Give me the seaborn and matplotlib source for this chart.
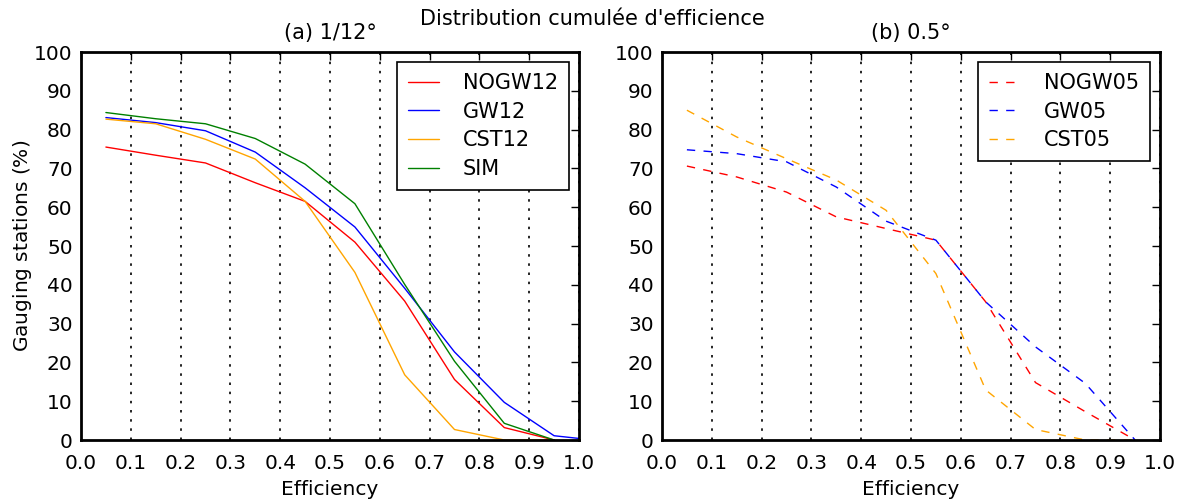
import matplotlib
matplotlib.use("Agg")
import matplotlib.pyplot as plt
import seaborn as sns
import pandas as pd

efficiency = [0.05, 0.15, 0.25, 0.35, 0.45, 0.55, 0.65, 0.75, 0.85, 0.95]
efficiency_gw = [0.05, 0.15, 0.25, 0.35, 0.45, 0.55, 0.65, 0.75, 0.85, 0.95, 1.0]

nogw12 = [75.5, 73.4, 71.4, 66.3, 61.5, 51.0, 35.8, 15.6, 3.2, 0.0]
gw12 = [83.1, 81.8, 79.7, 74.2, 65.0, 54.9, 39.1, 22.7, 9.7, 1.1, 0.4]
cst12 = [82.7, 81.5, 77.5, 72.4, 61.5, 43.2, 16.8, 2.7, 0.0, 0.0]
sim = [84.4, 82.8, 81.5, 77.7, 71.1, 60.9, 40.1, 20.3, 4.3, 0.0]

nogw05 = [70.6, 67.8, 63.9, 57.5, 54.5, 51.5, 35.6, 14.8, 7.3, 0.0]
gw05 = [74.8, 73.8, 71.7, 65.2, 56.4, 51.5, 35.6, 24.0, 14.6, 0.0]
cst05 = [85.0, 78.1, 72.5, 67.0, 59.2, 42.9, 12.9, 2.7, 0.0, 0.0]

xticks = [0.0, 0.1, 0.2, 0.3, 0.4, 0.5, 0.6, 0.7, 0.8, 0.9, 1.0]
yticks = [0, 10, 20, 30, 40, 50, 60, 70, 80, 90, 100]

sns.set_style("white")
plt.rcParams['font.family'] = ['DejaVu Sans']
plt.rcParams['mathtext.default'] = 'regular'
for k in ['text.color', 'axes.labelcolor', 'xtick.color', 'ytick.color']:
    plt.rcParams[k] = 'black'

fig = plt.figure(figsize=(11.85, 5.04), dpi=100)
ax1 = fig.add_axes([81/1185, 64/504, 498/1185, 388/504])
ax2 = fig.add_axes([662/1185, 64/504, 498/1185, 388/504])

def df_of(x, y, name):
    return pd.DataFrame({"x": x, "y": y, "s": name})

left = [(efficiency, nogw12, "NOGW12", "red"),
        (efficiency_gw, gw12, "GW12", "blue"),
        (efficiency, cst12, "CST12", "orange"),
        (efficiency, sim, "SIM", "green")]
for x, y, name, c in left:
    sns.lineplot(data=df_of(x, y, name), x="x", y="y", ax=ax1, color=c,
                 lw=1.0, label=name, estimator=None)

right = [(efficiency, nogw05, "NOGW05", "red"),
         (efficiency, gw05, "GW05", "blue"),
         (efficiency, cst05, "CST05", "orange")]
for x, y, name, c in right:
    sns.lineplot(data=df_of(x, y, name), x="x", y="y", ax=ax2, color=c,
                 lw=1.0, label=name, estimator=None, linestyle=(0, (6, 6)))

for ax, title in [(ax1, "(a) 1/12°"), (ax2, "(b) 0.5°")]:
    ax.set_xlim(0, 1)
    ax.set_ylim(0, 100)
    ax.set_xticks(xticks)
    ax.set_yticks(yticks)
    ax.set_xticklabels([f"{t:.1f}" for t in xticks], fontsize=14.5)
    ax.set_yticklabels([str(t) for t in yticks], fontsize=14.5)
    ax.tick_params(axis="both", direction="in", top=True, right=True, length=6, width=1, colors="black")
    ax.tick_params(axis="x", pad=10)
    ax.tick_params(axis="y", pad=6)
    for sp in ax.spines.values():
        sp.set_linewidth(2)
        sp.set_color("black")
    ax.xaxis.grid(True, linestyle=(0, (1.5, 4)), color="black", lw=1.2)
    ax.yaxis.grid(False)
    ax.set_xlabel("Efficiency", fontsize=14.5, labelpad=5)
    ax.set_title(title, fontsize=15, pad=9)
    leg = ax.legend(loc="upper right", fontsize=15, frameon=True, fancybox=False,
                    handlelength=1.5, handletextpad=1.15, borderpad=0.5, labelspacing=0.42,
                    borderaxespad=0.5)
    leg.get_frame().set_edgecolor("black")
    leg.get_frame().set_linewidth(1.2)
    leg.get_frame().set_alpha(1)

ax1.set_ylabel(r"Gauging stations ($\%$)", fontsize=14.5, labelpad=0)
ax2.set_ylabel("")
fig.text(0.5, 0.982, "Distribution cumulée d'efficience", ha="center", va="top", fontsize=15)

fig.savefig("out.png", dpi=100)
